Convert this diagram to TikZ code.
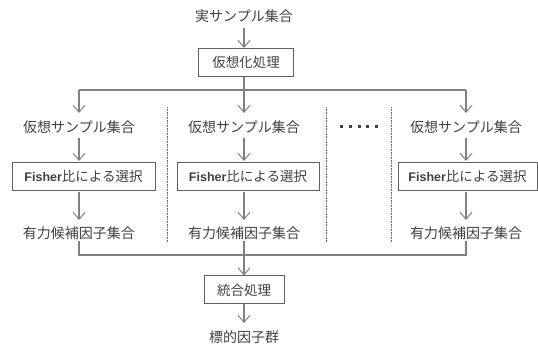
\documentclass[tikz,border=0pt]{standalone}
\usepackage{fontspec}
\setmainfont{Noto Sans CJK JP}
\newfontfamily\latinbold{Liberation Sans}
\usetikzlibrary{arrows.meta}
\definecolor{txt}{HTML}{404040}
\definecolor{ln}{HTML}{808080}
\definecolor{bx}{HTML}{606060}
\tikzset{
  lbl/.style={text=txt, font=\fontsize{14}{16}\selectfont, inner sep=0pt},
  box/.style={draw=bx, line width=1pt, text=txt, font=\fontsize{13.5}{16}\selectfont, minimum height=28pt, inner sep=0pt},
  conn/.style={draw=ln, line width=1.2pt},
  arr/.style={conn, -{Straight Barb[length=7pt,width=12pt,line width=1pt]}},
  sep/.style={draw=black!60, line width=0.8pt, dash pattern=on 0.8pt off 0.8pt},
}
\newcommand{\fish}{{\latinbold\bfseries\fontsize{12.5}{15}\selectfont Fisher}}
\begin{document}
\begin{tikzpicture}[x=1pt,y=-1pt]
\useasboundingbox (0,0) rectangle (538,347);
% top
\node[lbl] (real) at (244,16) {実サンプル集合};
\node[box, minimum width=95pt] (virt) at (246,62.5) {仮想化処理};
\coordinate (a0) at (244,28);
\draw[arr] (a0) -- (virt.north -| a0);
% columns
\foreach \i/\cx/\bx/\bw in {1/79/83.5/143, 2/244/248/142, 3/466/467.5/139}{
  \node[lbl] (s\i) at (\cx,127) {仮想サンプル集合};
  \node[box, minimum width=\bw pt] (f\i) at (\bx,176.5) {\fish 比による選択};
  \node[lbl] (c\i) at (\cx,233) {有力候補因子集合};
  \coordinate (ts\i) at (\cx,138);
  \coordinate (tf\i) at (\cx,161);
  \coordinate (bf\i) at (\cx,192);
  \coordinate (tc\i) at (\cx,220);
  \draw[arr] (ts\i) -- (tf\i);
  \draw[arr] (bf\i) -- (tc\i);
  \coordinate (top\i) at (\cx,90);
  \coordinate (at\i) at (\cx,113);
  \coordinate (bc\i) at (\cx,241);
  \coordinate (bot\i) at (\cx,255);
}
% distribution line
\draw[conn] (top1) -- (top3);
\draw[arr] (top1) -- (at1);
\draw[arr] (top3) -- (at3);
\draw[arr] (virt.south -| top2) -- (at2);
% collection line
\draw[conn] (bc1) -- (bot1) -- (bot3) -- (bc3);
\draw[conn] (bc2) -- (bot2);
\node[box, minimum width=80pt] (merge) at (244,290) {統合処理};
\draw[arr] (bot2) -- (merge.north -| bot2);
\node[lbl] (target) at (244,337) {標的因子群};
\coordinate (a9) at (244,323);
\draw[arr] (merge.south -| bot2) -- (a9);
% separators
\draw[sep] (167,107) -- (167,243);
\draw[sep] (326,107) -- (326,243);
\draw[sep] (391,107) -- (391,243);
\draw[draw=black!75, line width=3pt, dash pattern=on 3pt off 5.8pt] (340,127) -- (378.2,127);
\end{tikzpicture}
\end{document}
